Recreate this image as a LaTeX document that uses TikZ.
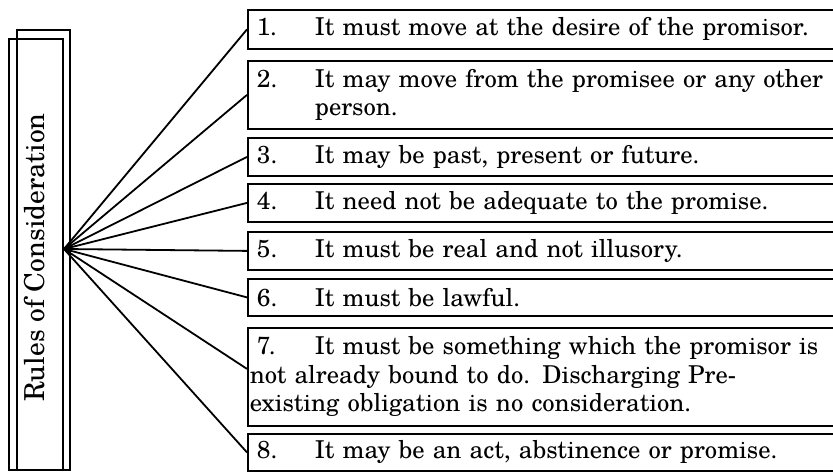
\documentclass[tikz,border=0pt]{standalone}
\usepackage{fontspec}
\setmainfont{TeX Gyre Schola}
\usetikzlibrary{calc}

\tikzset{
  rulebox/.style={draw, line width=1.8pt, anchor=north west, inner xsep=2pt, inner ysep=0pt,
    minimum width=613, text width=609, align=left,
    font=\fontsize{24.6}{28.5}\selectfont},
  spine/.style={draw, line width=1.8pt, inner sep=0pt},
  link/.style={line width=1.8pt},
}
% number column: indent + fixed width so the statements line up
\newcommand{\itemno}[1]{\hspace*{7pt}\makebox[58pt][l]{#1}}

\begin{document}
\begin{tikzpicture}[x=1pt,y=-1pt]
  \useasboundingbox (0,0) rectangle (833,473);
  \clip (0,0) rectangle (833,473);

  % double spine holding the title
  \node[spine, minimum width=53, minimum height=440] (back) at (43.5,250) {};
  \node[spine, minimum width=54, minimum height=431] (front) at (36,254.5) {};
  \node[rotate=90, inner sep=0pt, font=\fontsize{27.5}{32}\selectfont]
    (rules) at (35,257.5) {Rules of Consideration};
  \coordinate (hub) at (64,249);

  % the eight rules
  \node[rulebox, minimum height=39] (b1) at (247,9)
    {\itemno{1.}It must move at the desire of the promisor.};
  \node[rulebox, minimum height=68] (b2) at (247,60)
    {\itemno{2.}It may move from the promisee or any other\\\hspace*{65pt}person.};
  \node[rulebox, minimum height=38] (b3) at (247,137)
    {\itemno{3.}It may be past, present or future.};
  \node[rulebox, minimum height=38] (b4) at (247,183)
    {\itemno{4.}It need not be adequate to the promise.};
  \node[rulebox, minimum height=38] (b5) at (247,231)
    {\itemno{5.}It must be real and not illusory.};
  \node[rulebox, minimum height=37] (b6) at (247,278)
    {\itemno{6.}It must be lawful.};
  \node[rulebox, minimum height=98] (b7) at (247,327)
    {\itemno{7.}It must be something which the promisor is\\not already bound to do. Discharging Pre-\\existing obligation is no consideration.};
  \node[rulebox, minimum height=37] (b8) at (247,433)
    {\itemno{8.}It may be an act, abstinence or promise.};

  % fan of connectors
  \foreach \b in {b1,b2,b3,b4,b5,b6,b8}
    \draw[link] (hub) -- (\b.west);
  \draw[link] (hub) -- ($(b7.west)+(0,-8)$);
\end{tikzpicture}
\end{document}
